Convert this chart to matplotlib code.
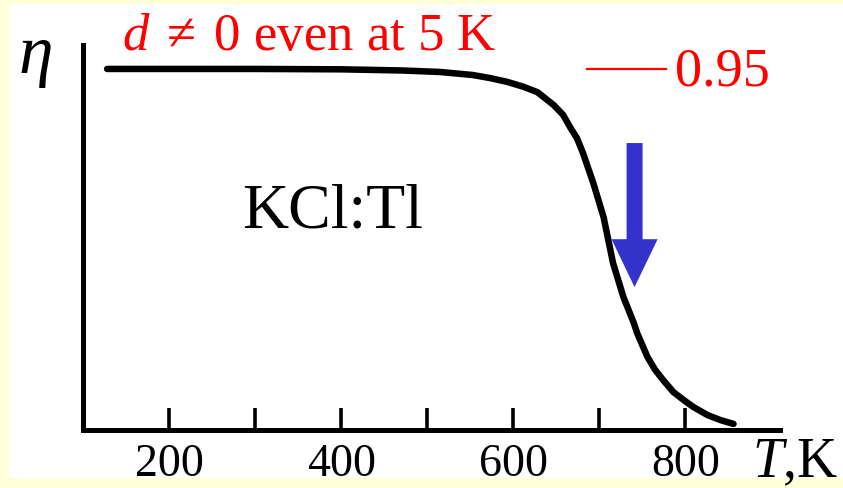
import matplotlib
matplotlib.use("Agg")
import matplotlib.pyplot as plt
from matplotlib.patches import Rectangle

# ---- data ----
temp_K = [128, 200, 300, 400, 470, 515, 553, 573, 593, 612, 628, 647, 658, 666,
          674, 681, 693, 705, 716, 728, 740, 744, 756, 765, 774, 786, 798, 809,
          826, 841, 856]
eta = [0.950, 0.950, 0.950, 0.949, 0.946, 0.942, 0.934, 0.926, 0.916, 0.903,
       0.889, 0.855, 0.829, 0.797, 0.768, 0.729, 0.650, 0.560, 0.439, 0.350,
       0.282, 0.255, 0.192, 0.158, 0.132, 0.100, 0.079, 0.061, 0.039, 0.026,
       0.016]
major_ticks = [200, 300, 400, 500, 600, 700, 800]
tick_labels = ["200", "", "400", "", "600", "", "800"]
ref_level = 0.95
ref_line_T = [686, 777]
arrow_T = 741
arrow_top = 0.755
arrow_tip = 0.376

W, H = 843, 488
DPI = 100
plt.rcParams['font.family'] = ['Liberation Serif', 'DejaVu Serif']
plt.rcParams['mathtext.fontset'] = 'custom'
plt.rcParams['mathtext.rm'] = 'Liberation Serif'
plt.rcParams['mathtext.it'] = 'Liberation Serif:italic'

fig = plt.figure(figsize=(W / DPI, H / DPI), dpi=DPI)
fig.patch.set_facecolor('#FFFFD8')
bg = Rectangle((9 / W, (H - 478) / H), (W - 9) / W, (478 - 4) / H,
               transform=fig.transFigure, facecolor='white',
               edgecolor='none', zorder=-10)
fig.patches.append(bg)


def px(x, y):
    return x / W, (H - y) / H


x0, x1, ytop, ybot = 83, 780, 45, 430
ax = fig.add_axes([x0 / W, (H - ybot) / H, (x1 - x0) / W, (ybot - ytop) / H])
ax.set_zorder(1)
ax.patch.set_alpha(0)
ax.set_xlim(100, 910)
ax.set_ylim(0, 1.013)

for s in ['top', 'right']:
    ax.spines[s].set_visible(False)
for s in ['left', 'bottom']:
    ax.spines[s].set_linewidth(3.6)
    ax.spines[s].set_capstyle('projecting')

ax.set_yticks([])
ax.set_xticks(major_ticks)
ax.set_xticklabels(tick_labels)
ax.tick_params(axis='x', direction='in', length=16, width=2.6, pad=10,
               labelsize=33, colors='black')

ax.plot(temp_K, eta, color='black', lw=4.7, solid_capstyle='round',
        solid_joinstyle='round', clip_on=False)

ax.plot(ref_line_T, [ref_level, ref_level], color='red', lw=1.6, clip_on=False)

ax.arrow(arrow_T, arrow_top, 0, arrow_tip - arrow_top, width=18.6,
         head_width=53.5, head_length=0.126, length_includes_head=True,
         color='#3333CC', lw=0, clip_on=False)

fig.text(*px(675, 86), '0.95', color='red', fontsize=39, ha='left', va='baseline')
fig.text(*px(122, 50), r'$d\;\neq\;0$ even at 5 K', color='red', fontsize=38,
         ha='left', va='baseline')
fig.text(*px(242, 228), 'KCl:Tl', color='black', fontsize=46,
         ha='left', va='baseline')
fig.text(*px(19, 73), 'η', color='black', fontsize=50, style='italic',
         ha='left', va='baseline')
fig.text(*px(752, 477), r'$T$,K', color='black', fontsize=40, ha='left', va='baseline')

fig.savefig('out.png', dpi=DPI)
